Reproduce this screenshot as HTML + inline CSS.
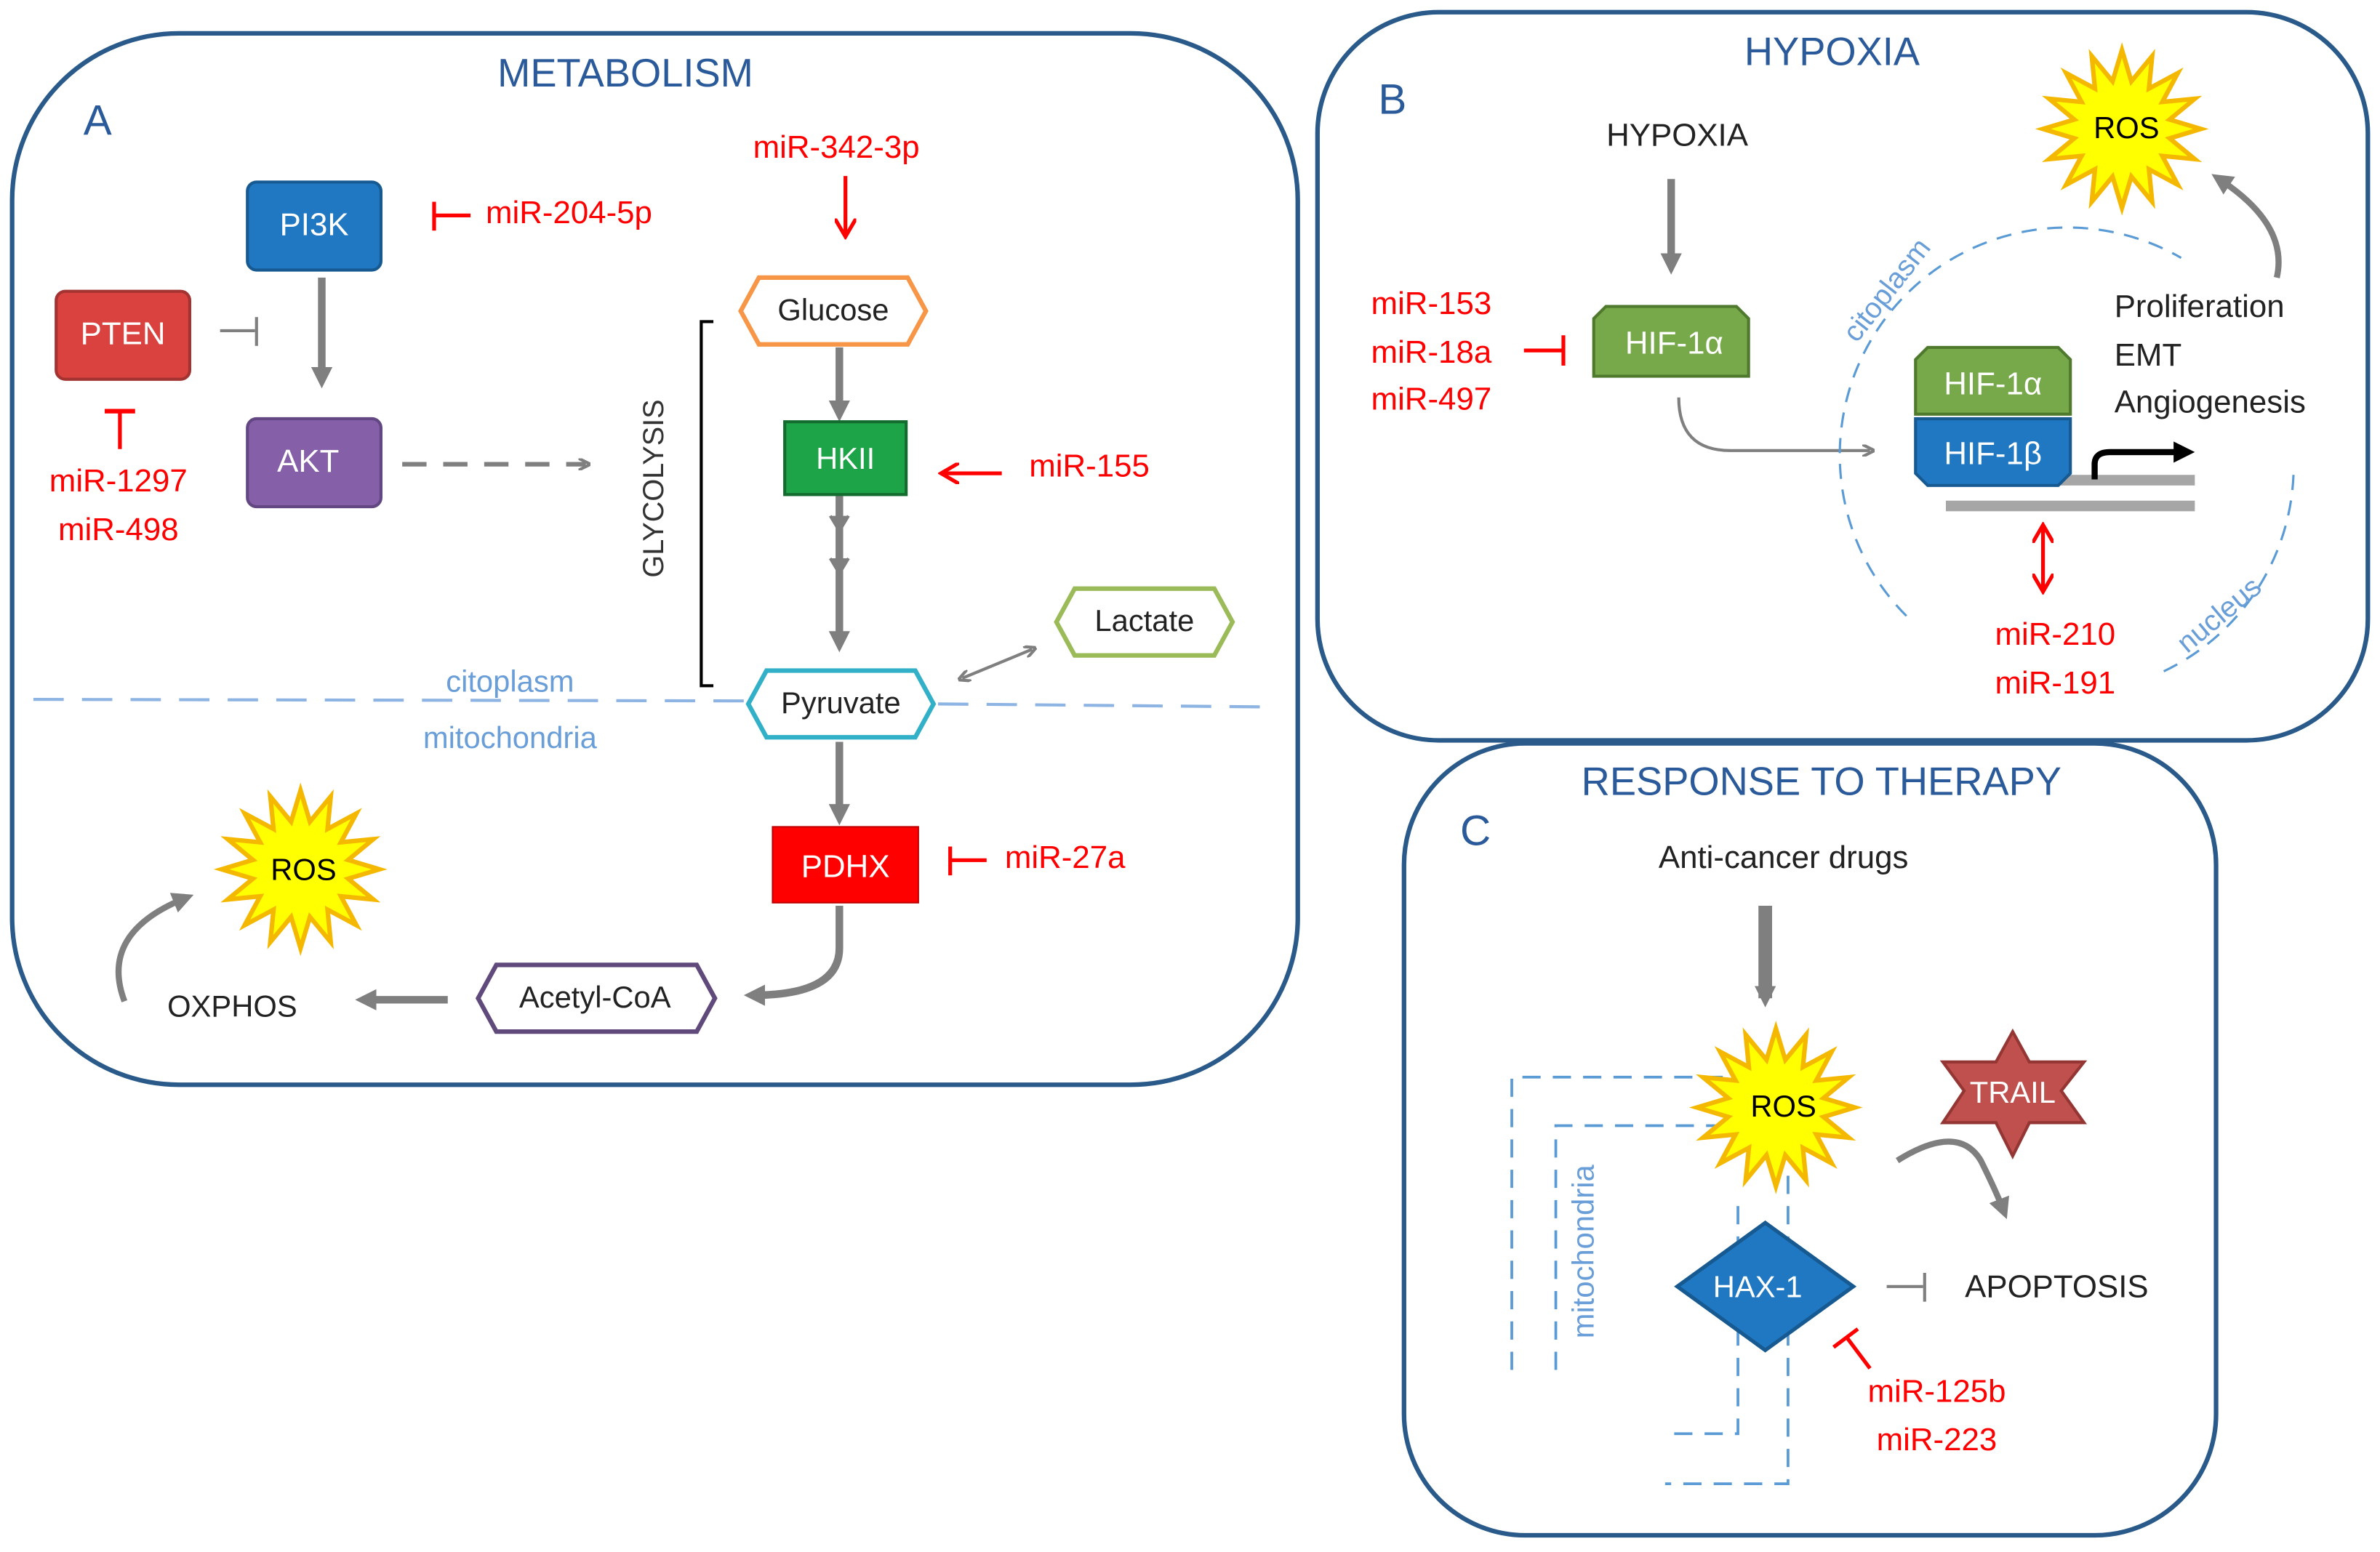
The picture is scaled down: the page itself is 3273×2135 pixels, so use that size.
<!DOCTYPE html>
<html><head><meta charset="utf-8"><style>
html,body{margin:0;padding:0;background:#fff;}
svg{display:block;}
text{font-family:"Liberation Sans",sans-serif;}
</style></head><body>
<svg width="3273" height="2135" viewBox="0 0 1568 1023" preserveAspectRatio="none" xmlns="http://www.w3.org/2000/svg">
<defs>
<marker id="ag" markerWidth="8" markerHeight="8" refX="5" refY="4" orient="auto-start-reverse" markerUnits="userSpaceOnUse"><path d="M0,0 L8,4 L0,8" fill="none" stroke="#7f7f7f" stroke-width="2"/></marker>
<marker id="agf" markerWidth="14" markerHeight="14" refX="8" refY="7" orient="auto" markerUnits="userSpaceOnUse"><path d="M0,0 L14,7 L0,14 z" fill="#7f7f7f"/></marker>
<marker id="ar" markerWidth="14" markerHeight="14" refX="10" refY="7" orient="auto-start-reverse" markerUnits="userSpaceOnUse"><path d="M0,0 L12,7 L0,14" fill="none" stroke="#ff0000" stroke-width="2.5"/></marker>
<marker id="ak" markerWidth="14" markerHeight="14" refX="8" refY="7" orient="auto" markerUnits="userSpaceOnUse"><path d="M0,0 L14,7 L0,14 z" fill="#000"/></marker>
<polygon id="star" points="52,0 31.4,6.2 48,19.9 26.6,17.8 36.8,36.8 17.8,26.6 19.9,48 6.2,31.4 0,52 -6.2,31.4 -19.9,48 -17.8,26.6 -36.8,36.8 -26.6,17.8 -48,19.9 -31.4,6.2 -52,0 -31.4,-6.2 -48,-19.9 -26.6,-17.8 -36.8,-36.8 -17.8,-26.6 -19.9,-48 -6.2,-31.4 0,-52 6.2,-31.4 19.9,-48 17.8,-26.6 36.8,-36.8 26.6,-17.8 48,-19.9 31.4,-6.2" fill="#ffff00" stroke="#f5b800" stroke-width="3"/>
</defs>

<rect x="8" y="22" width="847" height="693" rx="110" fill="none" stroke="#2a5a8a" stroke-width="3"/>
<rect x="868" y="8" width="692" height="480" rx="80" fill="none" stroke="#2a5a8a" stroke-width="3"/>
<rect x="925" y="490" width="535" height="522" rx="80" fill="#fff" stroke="#2a5a8a" stroke-width="3"/>

<text x="412" y="57" font-size="26" fill="#2a5a9a" text-anchor="middle">METABOLISM</text>
<text x="55" y="89" font-size="28" fill="#2a5a9a">A</text>

<rect x="163" y="120" width="88" height="58" rx="6" fill="#1f78c1" stroke="#175a92" stroke-width="2"/>
<text x="207" y="155" font-size="21" fill="#fff" text-anchor="middle">PI3K</text>
<rect x="37" y="192" width="88" height="58" rx="6" fill="#d9423f" stroke="#a33331" stroke-width="2"/>
<text x="81" y="227" font-size="21" fill="#fff" text-anchor="middle">PTEN</text>
<rect x="163" y="276" width="88" height="58" rx="6" fill="#8560a8" stroke="#634782" stroke-width="2"/>
<text x="203" y="311" font-size="21" fill="#fff" text-anchor="middle">AKT</text>

<line x1="145" y1="218" x2="168" y2="218" stroke="#7f7f7f" stroke-width="2"/>
<line x1="169" y1="209" x2="169" y2="228" stroke="#7f7f7f" stroke-width="2"/>
<line x1="212" y1="183" x2="212" y2="250" stroke="#7f7f7f" stroke-width="5" marker-end="url(#agf)"/>

<line x1="286" y1="142" x2="310" y2="142" stroke="#ff0000" stroke-width="2.5"/>
<line x1="286" y1="133" x2="286" y2="152" stroke="#ff0000" stroke-width="2.5"/>
<text x="320" y="147" font-size="21" fill="#ff0000">miR-204-5p</text>

<line x1="79" y1="272" x2="79" y2="296" stroke="#ff0000" stroke-width="2.5"/>
<line x1="69" y1="271" x2="89" y2="271" stroke="#ff0000" stroke-width="3"/>
<text x="78" y="324" font-size="21" fill="#ff0000" text-anchor="middle">miR-1297</text>
<text x="78" y="356" font-size="21" fill="#ff0000" text-anchor="middle">miR-498</text>

<line x1="265" y1="306" x2="386" y2="306" stroke="#7f7f7f" stroke-width="3" stroke-dasharray="16,11" marker-end="url(#ag)"/>

<path d="M470,212 H462 V452 H470" fill="none" stroke="#000" stroke-width="2"/>
<text transform="translate(437,322) rotate(-90)" font-size="19" fill="#333" text-anchor="middle">GLYCOLYSIS</text>

<text x="551" y="104" font-size="21" fill="#ff0000" text-anchor="middle">miR-342-3p</text>
<line x1="557" y1="116" x2="557" y2="154" stroke="#ff0000" stroke-width="2.5" marker-end="url(#ar)"/>

<polygon points="488,205 500,183 598,183 610,205 598,227 500,227" fill="#fff" stroke="#f79646" stroke-width="3"/>
<text x="549" y="211" font-size="20" fill="#222" text-anchor="middle">Glucose</text>

<line x1="553" y1="229" x2="553" y2="272" stroke="#7f7f7f" stroke-width="5" marker-end="url(#agf)"/>
<rect x="517" y="278" width="80" height="48" fill="#1ea448" stroke="#136b2e" stroke-width="2"/>
<text x="557" y="309" font-size="20" fill="#fff" text-anchor="middle">HKII</text>
<line x1="553" y1="327" x2="553" y2="424" stroke="#7f7f7f" stroke-width="5" marker-end="url(#agf)"/>
<path d="M547,340 L553,350 L559,340 M547,368 L553,378 L559,368" fill="#7f7f7f" stroke="#7f7f7f" stroke-width="2"/>

<line x1="660" y1="312" x2="622" y2="312" stroke="#ff0000" stroke-width="2.5" marker-end="url(#ar)"/>
<text x="678" y="314" font-size="21" fill="#ff0000">miR-155</text>

<polygon points="696,410 708,388 800,388 812,410 800,432 708,432" fill="#fff" stroke="#9bbb59" stroke-width="3"/>
<text x="754" y="416" font-size="20" fill="#222" text-anchor="middle">Lactate</text>
<line x1="634" y1="447" x2="680" y2="428" stroke="#7f7f7f" stroke-width="2" marker-end="url(#ag)" marker-start="url(#ag)"/>

<line x1="22" y1="461" x2="490" y2="462" stroke="#8db4e2" stroke-width="2" stroke-dasharray="20,12"/>
<line x1="618" y1="464" x2="840" y2="466" stroke="#8db4e2" stroke-width="2" stroke-dasharray="20,12"/>
<text x="336" y="456" font-size="20" fill="#6a9ed8" text-anchor="middle">citoplasm</text>
<text x="336" y="493" font-size="20" fill="#6a9ed8" text-anchor="middle">mitochondria</text>

<polygon points="493,464 505,442 603,442 615,464 603,486 505,486" fill="#fff" stroke="#31b0c8" stroke-width="3"/>
<text x="554" y="470" font-size="20" fill="#222" text-anchor="middle">Pyruvate</text>

<line x1="553" y1="489" x2="553" y2="538" stroke="#7f7f7f" stroke-width="5" marker-end="url(#agf)"/>
<rect x="509" y="545" width="96" height="50" fill="#ff0000" stroke="#c00000" stroke-width="1"/>
<text x="557" y="578" font-size="21" fill="#fff" text-anchor="middle">PDHX</text>
<line x1="626" y1="567" x2="650" y2="567" stroke="#ff0000" stroke-width="2.5"/>
<line x1="626" y1="558" x2="626" y2="577" stroke="#ff0000" stroke-width="2.5"/>
<text x="662" y="572" font-size="21" fill="#ff0000">miR-27a</text>

<path d="M553,597 L553,625 Q553,656 496,656" fill="none" stroke="#7f7f7f" stroke-width="5" marker-end="url(#agf)"/>
<polygon points="315,658 327,636 459,636 471,658 459,680 327,680" fill="#fff" stroke="#604a7b" stroke-width="3"/>
<text x="392" y="664" font-size="20" fill="#222" text-anchor="middle">Acetyl-CoA</text>
<line x1="295" y1="659" x2="240" y2="659" stroke="#7f7f7f" stroke-width="5" marker-end="url(#agf)"/>
<text x="153" y="670" font-size="20" fill="#222" text-anchor="middle">OXPHOS</text>
<path d="M82,660 Q65,615 122,592" fill="none" stroke="#7f7f7f" stroke-width="4" marker-end="url(#agf)"/>
<use href="#star" transform="translate(198,573)"/>
<text x="200" y="580" font-size="20" fill="#000" text-anchor="middle">ROS</text>

<text x="1207" y="43" font-size="26" fill="#2a5a9a" text-anchor="middle">HYPOXIA</text>
<text x="908" y="75" font-size="28" fill="#2a5a9a">B</text>
<text x="1105" y="96" font-size="21" fill="#222" text-anchor="middle">HYPOXIA</text>
<line x1="1101" y1="118" x2="1101" y2="175" stroke="#7f7f7f" stroke-width="5" marker-end="url(#agf)"/>

<text x="943" y="207" font-size="21" fill="#ff0000" text-anchor="middle">miR-153</text>
<text x="943" y="239" font-size="21" fill="#ff0000" text-anchor="middle">miR-18a</text>
<text x="943" y="270" font-size="21" fill="#ff0000" text-anchor="middle">miR-497</text>
<line x1="1004" y1="231" x2="1030" y2="231" stroke="#ff0000" stroke-width="2.5"/>
<line x1="1030" y1="221" x2="1030" y2="241" stroke="#ff0000" stroke-width="2.5"/>

<polygon points="1058,202 1144,202 1152,210 1152,248 1050,248 1050,210" fill="#77a94a" stroke="#4f7a2e" stroke-width="2"/>
<text x="1103" y="233" font-size="21" fill="#fff" text-anchor="middle">HIF-1α</text>
<path d="M1106,262 Q1106,297 1140,297 L1232,297" fill="none" stroke="#7f7f7f" stroke-width="2" marker-end="url(#ag)"/>

<path d="M1256,406 A150,150 0 0 1 1437,170" fill="none" stroke="#5b9bd5" stroke-width="1.5" stroke-dasharray="10,7"/>
<path d="M1511,313 A150,150 0 0 1 1420,445" fill="none" stroke="#5b9bd5" stroke-width="1.5" stroke-dasharray="10,7"/>
<text transform="translate(1248,195) rotate(-52)" font-size="19" fill="#6a9ed8" text-anchor="middle">citoplasm</text>
<text transform="translate(1466,410) rotate(-40)" font-size="19" fill="#6a9ed8" text-anchor="middle">nucleus</text>

<rect x="1282" y="313" width="164" height="7" fill="#a6a6a6"/>
<rect x="1282" y="330" width="164" height="7" fill="#a6a6a6"/>
<polygon points="1270,229 1356,229 1364,237 1364,273 1262,273 1262,237" fill="#77a94a" stroke="#4f7a2e" stroke-width="2"/>
<text x="1313" y="260" font-size="21" fill="#fff" text-anchor="middle">HIF-1α</text>
<polygon points="1262,276 1364,276 1364,312 1356,320 1270,320 1262,312" fill="#1f78c1" stroke="#175a92" stroke-width="2"/>
<text x="1313" y="306" font-size="21" fill="#fff" text-anchor="middle">HIF-1β</text>
<path d="M1380,316 L1380,306 Q1380,298 1390,298 L1440,298" fill="none" stroke="#000" stroke-width="4" marker-end="url(#ak)"/>

<text x="1393" y="209" font-size="21" fill="#222">Proliferation</text>
<text x="1393" y="241" font-size="21" fill="#222">EMT</text>
<text x="1393" y="272" font-size="21" fill="#222">Angiogenesis</text>

<line x1="1346" y1="348" x2="1346" y2="388" stroke="#ff0000" stroke-width="2.5" marker-end="url(#ar)" marker-start="url(#ar)"/>
<text x="1354" y="425" font-size="21" fill="#ff0000" text-anchor="middle">miR-210</text>
<text x="1354" y="457" font-size="21" fill="#ff0000" text-anchor="middle">miR-191</text>

<use href="#star" transform="translate(1398,85)"/>
<text x="1401" y="91" font-size="20" fill="#000" text-anchor="middle">ROS</text>
<path d="M1500,183 Q1508,148 1462,118" fill="none" stroke="#7f7f7f" stroke-width="4" marker-end="url(#agf)"/>

<text x="1200" y="524" font-size="26" fill="#2a5a9a" text-anchor="middle">RESPONSE TO THERAPY</text>
<text x="962" y="557" font-size="28" fill="#2a5a9a">C</text>
<text x="1175" y="572" font-size="21" fill="#222" text-anchor="middle">Anti-cancer drugs</text>
<line x1="1163" y1="597" x2="1163" y2="658" stroke="#7f7f7f" stroke-width="9" marker-end="url(#agf)"/>

<g fill="none" stroke="#5b9bd5" stroke-width="1.8" stroke-dasharray="12,8">
<path d="M996,903 V710 H1135"/>
<path d="M1025,903 V742 H1130"/>
<path d="M1178,775 V978 H1097"/>
<path d="M1145,795 V945 H1097"/>
</g>
<text transform="translate(1050,825) rotate(-90)" font-size="20" fill="#6a9ed8" text-anchor="middle">mitochondria</text>

<use href="#star" transform="translate(1170,730)"/>
<text x="1175" y="736" font-size="20" fill="#000" text-anchor="middle">ROS</text>

<polygon points="1326,680 1337,700 1373,700 1358,719 1373,740 1337,740 1326,762 1315,740 1280,740 1294,719 1280,700 1315,700" fill="#c0504d" stroke="#943634" stroke-width="2"/>
<text x="1326" y="727" font-size="20" fill="#fff" text-anchor="middle">TRAIL</text>
<path d="M1250,765 Q1290,740 1305,765 Q1315,785 1320,798" fill="none" stroke="#7f7f7f" stroke-width="4" marker-end="url(#agf)"/>

<polygon points="1163,806 1221,848 1163,890 1105,848" fill="#1f78c1" stroke="#175a92" stroke-width="2.5"/>
<text x="1158" y="855" font-size="20" fill="#fff" text-anchor="middle">HAX-1</text>
<line x1="1243" y1="848" x2="1267" y2="848" stroke="#7f7f7f" stroke-width="2"/>
<line x1="1268" y1="839" x2="1268" y2="858" stroke="#7f7f7f" stroke-width="2"/>
<text x="1355" y="855" font-size="21" fill="#222" text-anchor="middle">APOPTOSIS</text>

<line x1="1232" y1="902" x2="1217" y2="882" stroke="#ff0000" stroke-width="2.5"/>
<line x1="1208" y1="888" x2="1224" y2="876" stroke="#ff0000" stroke-width="2.5"/>
<text x="1276" y="924" font-size="21" fill="#ff0000" text-anchor="middle">miR-125b</text>
<text x="1276" y="956" font-size="21" fill="#ff0000" text-anchor="middle">miR-223</text>
</svg>
</body></html>
